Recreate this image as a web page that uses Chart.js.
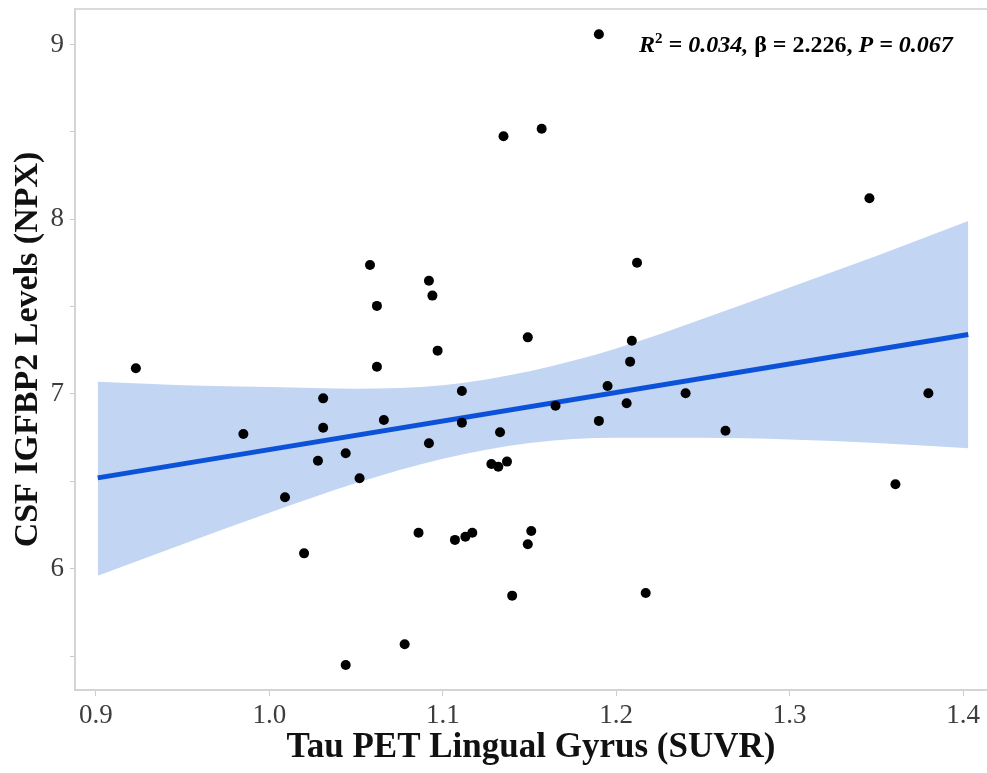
<!DOCTYPE html>
<html>
<head>
<meta charset="utf-8">
<script src="https://cdn.jsdelivr.net/npm/chart.js@4.4.0/dist/chart.umd.min.js"></script>
<style>
  html, body { margin: 0; padding: 0; background: #fff; }
  #wrap { width: 987px; height: 773px; }
</style>
</head>
<body>
<div id="wrap"><canvas id="chart" width="987" height="773"></canvas></div>
<script>
// Tau PET lingual gyrus SUVR vs CSF IGFBP2 (NPX)
const tauSuvr = [1.190, 1.135, 1.157, 1.346, 1.058, 1.212, 1.092, 1.094, 1.062, 1.149,
                 1.209, 0.923, 1.097, 1.062, 1.208, 1.195, 1.111, 1.240, 1.380, 1.031,
                 1.206, 1.165, 1.066, 1.190, 1.111, 1.031, 1.263, 1.133, 0.985, 1.092,
                 1.044, 1.028, 1.128, 1.132, 1.137, 1.052, 1.361, 1.009, 1.086, 1.107,
                 1.113, 1.117, 1.151, 1.149, 1.020, 1.140, 1.217, 1.078, 1.044];
const igfbp2 = [9.058, 8.475, 8.518, 8.120, 7.738, 7.751, 7.648, 7.563, 7.504, 7.324,
                7.305, 7.147, 7.248, 7.156, 7.185, 7.046, 7.017, 7.004, 7.004, 6.975,
                6.947, 6.933, 6.851, 6.846, 6.836, 6.807, 6.790, 6.781, 6.771, 6.718,
                6.661, 6.618, 6.599, 6.584, 6.613, 6.518, 6.483, 6.409, 6.206, 6.165,
                6.183, 6.206, 6.216, 6.140, 6.088, 5.846, 5.861, 5.568, 5.449];

// fitted line and its confidence band
const fitX = [0.901, 1.403];
const fitY = [6.52, 7.34];
const bandX = [0.901, 0.95, 1.0, 1.05, 1.1, 1.15, 1.2, 1.25, 1.3, 1.35, 1.403];
const bandUpper = [7.07, 7.05, 7.04, 7.03, 7.05, 7.13, 7.26, 7.43, 7.61, 7.79, 7.99];
const bandLower = [5.96, 6.14, 6.32, 6.49, 6.63, 6.72, 6.75, 6.75, 6.74, 6.72, 6.69];

const xTicks = [0.9, 1.0, 1.1, 1.2, 1.3, 1.4];
const yTicks = [5.5, 6, 6.5, 7, 7.5, 8, 8.5, 9];

const serif = '"Liberation Serif", "Times New Roman", serif';
const toXY = (xs, ys) => xs.map((x, i) => ({ x: x, y: ys[i] }));

// stats text + top frame line
const extras = {
    id: 'extras',
    beforeDatasetsDraw(chart) {
        const ctx = chart.ctx;
        const a = chart.chartArea;
        ctx.save();
        ctx.strokeStyle = '#dadada';
        ctx.lineWidth = 2;
        ctx.beginPath();
        ctx.moveTo(a.left, a.top);
        ctx.lineTo(a.right, a.top);
        ctx.stroke();
        ctx.restore();
    },
    afterDraw(chart) {
        const ctx = chart.ctx;
        const parts = [
            ['R', 'italic bold 24px ' + serif, 0],
            ['2', 'bold 15px ' + serif, -9],
            [' = 0.034, ', 'italic bold 24px ' + serif, 0],
            ['\u03b2 = 2.226, ', 'bold 24px ' + serif, 0],
            ['P', 'italic bold 24px ' + serif, 0],
            [' = 0.067', 'italic bold 24px ' + serif, 0]
        ];
        let x = 639;
        const y = 52;
        ctx.save();
        ctx.fillStyle = '#000';
        ctx.textBaseline = 'alphabetic';
        parts.forEach(p => {
            ctx.font = p[1];
            ctx.fillText(p[0], x, y + p[2]);
            x += ctx.measureText(p[0]).width;
        });
        ctx.restore();
    }
};

const ctx = document.getElementById('chart').getContext('2d');
new Chart(ctx, {
    type: 'scatter',
    data: {
        datasets: [
            {
                label: 'upper',
                data: toXY(bandX, bandUpper),
                showLine: true,
                borderWidth: 0,
                borderColor: 'rgba(0,0,0,0)',
                backgroundColor: 'rgb(194, 213, 243)',
                pointRadius: 0,
                cubicInterpolationMode: 'monotone',
                fill: '+1',
                order: 3
            },
            {
                label: 'lower',
                data: toXY(bandX, bandLower),
                showLine: true,
                borderWidth: 0,
                borderColor: 'rgba(0,0,0,0)',
                pointRadius: 0,
                cubicInterpolationMode: 'monotone',
                fill: false,
                order: 3
            },
            {
                label: 'fit',
                data: toXY(fitX, fitY),
                showLine: true,
                borderColor: 'rgb(12, 82, 216)',
                borderWidth: 5,
                pointRadius: 0,
                fill: false,
                order: 2
            },
            {
                label: 'subjects',
                data: toXY(tauSuvr, igfbp2),
                backgroundColor: '#000',
                borderColor: '#000',
                pointRadius: 5,
                pointBorderWidth: 0,
                order: 1
            }
        ]
    },
    options: {
        responsive: false,
        animation: false,
        layout: { autoPadding: false, padding: { top: 9, right: 0, left: 0, bottom: 0 } },
        plugins: {
            legend: { display: false },
            tooltip: { enabled: false }
        },
        scales: {
            x: {
                type: 'linear',
                min: 0.8879,
                max: 1.4138,
                afterBuildTicks: s => { s.ticks = xTicks.map(v => ({ value: v })); },
                afterFit: s => { s.height = 83; s.paddingLeft = 0; s.paddingRight = 0; },
                ticks: {
                    callback: v => v.toFixed(1),
                    font: { family: serif, size: 27 },
                    color: '#3d3d3d',
                    padding: 4,
                    maxRotation: 0,
                    autoSkip: false
                },
                grid: { drawOnChartArea: false, tickLength: 6, color: '#cccccc', lineWidth: 1 },
                border: { color: '#d4d4d4', width: 2 },
                title: {
                    display: true,
                    text: 'Tau PET Lingual Gyrus (SUVR)',
                    font: { family: serif, size: 35, weight: 'bold' },
                    color: '#111',
                    padding: { top: 0, bottom: 4 }
                }
            },
            y: {
                type: 'linear',
                min: 5.306,
                max: 9.203,
                afterBuildTicks: s => { s.ticks = yTicks.map(v => ({ value: v })); },
                afterFit: s => { s.width = 75; s.paddingTop = 0; s.paddingBottom = 0; },
                ticks: {
                    callback: v => Number.isInteger(v) ? String(v) : '',
                    font: { family: serif, size: 27 },
                    color: '#3d3d3d',
                    padding: 6,
                    autoSkip: false
                },
                grid: { drawOnChartArea: false, tickLength: 5, color: '#cccccc', lineWidth: 1 },
                border: { color: '#d4d4d4', width: 2 },
                title: {
                    display: true,
                    text: 'CSF IGFBP2 Levels (NPX)',
                    font: { family: serif, size: 34, weight: 'bold' },
                    color: '#111',
                    padding: { top: 8, bottom: 0 }
                }
            }
        }
    },
    plugins: [extras]
});
</script>
</body>
</html>
